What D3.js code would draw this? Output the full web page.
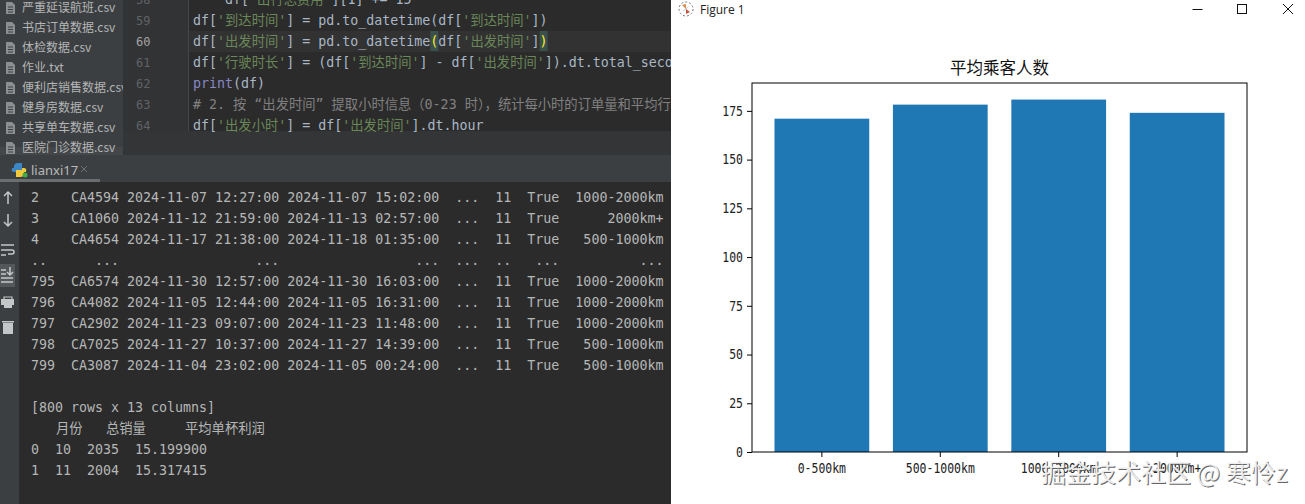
<!DOCTYPE html>
<html>
<head>
<meta charset="utf-8">
<script src="https://cdn.jsdelivr.net/npm/d3@7"></script>
<style>
html, body { margin: 0; padding: 0; background: #fff; overflow: hidden; }
svg { display: block; }
text { white-space: pre; }
</style>
</head>
<body>
<svg id="shot" width="1305" height="504"></svg>
<script>
// chart values
var categories = ["0-500km", "500-1000km", "1000-2000km", "2000km+"];
var passengers = [171, 178.2, 180.8, 174];
var yTicks = [0, 25, 50, 75, 100, 125, 150, 175];
var chartTitle = "平均乘客人数";

// text of the IDE next to the chart
var projectFiles = ["严重延误航班.csv", "书店订单数据.csv", "体检数据.csv", "作业.txt",
    "便利店销售数据.csv", "健身房数据.csv", "共享单车数据.csv", "医院门诊数据.csv"];
var lineNumbers = ["58", "59", "60", "61", "62", "63", "64"];
var codeLines = [
    [["    df[", "d"], ["'出行总费用'", "s"], ["][1] += 15", "d"]],
    [["df[", "d"], ["'到达时间'", "s"], ["] = pd.to_datetime(df[", "d"], ["'到达时间'", "s"], ["])", "d"]],
    [["df[", "d"], ["'出发时间'", "s"], ["] = pd.to_datetime", "d"], ["(", "b"], ["df[", "d"], ["'出发时间'", "s"], ["]", "d"], [")", "b"]],
    [["df[", "d"], ["'行驶时长'", "s"], ["] = (df[", "d"], ["'到达时间'", "s"], ["] - df[", "d"], ["'出发时间'", "s"], ["]).dt.total_seconds()", "d"]],
    [["print", "k"], ["(df)", "d"]],
    [["# 2. 按 “出发时间” 提取小时信息（0-23 时），统计每小时的订单量和平均行驶时长", "c"]],
    [["df[", "d"], ["'出发小时'", "s"], ["] = df[", "d"], ["'出发时间'", "s"], ["].dt.hour", "d"]]
];
var consoleLines = [
    "2    CA4594 2024-11-07 12:27:00 2024-11-07 15:02:00  ...  11  True  1000-2000km",
    "3    CA1060 2024-11-12 21:59:00 2024-11-13 02:57:00  ...  11  True      2000km+",
    "4    CA4654 2024-11-17 21:38:00 2024-11-18 01:35:00  ...  11  True   500-1000km",
    "..      ...                 ...                 ...  ...  ..   ...          ...",
    "795  CA6574 2024-11-30 12:57:00 2024-11-30 16:03:00  ...  11  True  1000-2000km",
    "796  CA4082 2024-11-05 12:44:00 2024-11-05 16:31:00  ...  11  True  1000-2000km",
    "797  CA2902 2024-11-23 09:07:00 2024-11-23 11:48:00  ...  11  True  1000-2000km",
    "798  CA7025 2024-11-27 10:37:00 2024-11-27 14:39:00  ...  11  True   500-1000km",
    "799  CA3087 2024-11-04 23:02:00 2024-11-05 00:24:00  ...  11  True   500-1000km",
    "",
    "[800 rows x 13 columns]"
];
var tableHeader = [["月份", 56], ["总销量", 106], ["平均单杯利润", 185]];
var tableRows = ["0  10  2035  15.199900", "1  11  2004  15.317415"];
var watermark = "掘金技术社区 @ 寒怜z";

var svg = d3.select("#shot");
var mono = "'DejaVu Sans Mono', 'Noto Sans CJK SC', monospace";
var cjk = "'Noto Sans CJK SC', sans-serif";
var codeColors = { d: "#a9b7c6", s: "#6a8759", k: "#8888c6", c: "#808080", b: "#ffef28" };

function box(g, x, y, w, h, fill) {
    return g.append("rect").attr("x", x).attr("y", y).attr("width", w).attr("height", h).attr("fill", fill);
}

svg.append("clipPath").attr("id", "ideClip").append("rect").attr("width", 671).attr("height", 504);
svg.append("clipPath").attr("id", "treeClip").append("rect").attr("width", 123).attr("height", 155);

// ---- IDE, left part ----
var ide = svg.append("g").attr("clip-path", "url(#ideClip)");
box(ide, 0, 0, 671, 504, "#2b2b2b");
box(ide, 0, 0, 123, 155, "#3c3f41");
box(ide, 123, 0, 65, 155, "#313335");
box(ide, 188, 31, 483, 21, "#323232");
box(ide, 188, 0, 1, 131, "#45484a");
box(ide, 123, 131, 548, 24, "#333537");
box(ide, 0, 155, 671, 27, "#3c3f41");
box(ide, 0, 179, 100, 3, "#6b6e70");
box(ide, 0, 182, 19, 322, "#3c3f41");
box(ide, 0, 264, 15, 23, "#54575a");
box(ide, 0, 147, 123, 8, "#4a4d4f").attr("opacity", 0.6);

// project tree
var tree = ide.append("g").attr("clip-path", "url(#treeClip)");
var fileRow = tree.selectAll("g").data(projectFiles).enter().append("g")
    .attr("transform", function(d, i) { return "translate(0," + (8 + i * 20) + ")"; });
fileRow.append("path").attr("d", "M6,-6 h6 l3,3 v9 h-9 z").attr("fill", "#8b8f92");
fileRow.append("path").attr("d", "M8,-1 h5 M8,1.5 h5 M8,4 h5").attr("stroke", "#3c3f41").attr("stroke-width", 1);
fileRow.append("text").attr("x", 22).attr("y", 4).attr("font-family", cjk).attr("font-size", 12)
    .attr("fill", "#b3b5b6").text(function(d) { return d; });

// editor
ide.selectAll(".lineNo").data(lineNumbers).enter().append("text").attr("class", "lineNo")
    .attr("x", 136).attr("y", function(d, i) { return 4 + i * 21; })
    .attr("font-family", mono).attr("font-size", 12)
    .attr("fill", function(d) { return d == "60" ? "#a4a3a3" : "#606366"; })
    .text(function(d) { return d; });

var bracketBg = ide.append("g");
ide.selectAll(".code").data(codeLines).enter().append("text").attr("class", "code")
    .attr("x", 193).attr("y", function(d, i) { return 4 + i * 21; })
    .attr("font-family", mono).attr("font-size", 13.3)
    .each(function(segments) {
        d3.select(this).selectAll("tspan").data(segments).enter().append("tspan")
            .attr("fill", function(s) { return codeColors[s[1]]; })
            .text(function(s) { return s[0]; });
    });

// matched brackets get a tinted cell behind them
ide.selectAll(".code tspan").filter(function(s) { return s[1] == "b"; }).each(function() {
    var start = this.getStartPositionOfChar(0).x;
    box(bracketBg, start, 31, this.getComputedTextLength(), 20, "#3b514d");
});

// run tab
var py = ide.append("g").attr("transform", "translate(19,170)");
py.append("path").attr("d", "M0,-7 C-5,-7 -5,-5 -5,-2 L-7,-2 C-8,2 -6,2 -3,2 L-3,0 L3,0 L3,-7 Z").attr("fill", "#3c85c6");
py.append("path").attr("d", "M0,7 C5,7 5,5 5,2 L7,2 C8,-2 6,-2 3,-2 L3,0 L-3,0 L-3,7 Z").attr("fill", "#f2c93b");
py.append("circle").attr("cx", 6).attr("cy", 5).attr("r", 2.5).attr("fill", "#3fae49");
ide.append("text").attr("x", 31).attr("y", 175).attr("font-family", "'Noto Sans', sans-serif")
    .attr("font-size", 13).attr("fill", "#b8babb").text("lianxi17");
ide.append("path").attr("d", "M81,166 l6,6 M87,166 l-6,6").attr("stroke", "#6e7072").attr("stroke-width", 1);

// console tool icons
var tool = ide.append("g").attr("fill", "none").attr("stroke", "#c4c6c7").attr("stroke-width", 1.5);
tool.append("path").attr("d", "M4,196 l4,-4 l4,4 M8,192 v12");
tool.append("path").attr("d", "M4,222 l4,4 l4,-4 M8,214 v12");
tool.append("path").attr("d", "M1,245 h13 M1,250 h11 a2,2 0 0 1 0,4 h-4 M1,255 h5");
tool.append("path").attr("d", "M1,270 h5 M1,274 h5 M1,278 h12 M1,282 h12 M10,267 v8 M7,272 l3,3 l3,-3");
tool.append("path").attr("d", "M4,301 v-4 h8 v4").attr("stroke-width", 1.2);
box(ide, 1, 299, 13, 6, "#c4c6c7");
box(ide, 4, 304, 8, 4, "#c4c6c7");
box(ide, 3, 323, 10, 11, "#c4c6c7");
box(ide, 2, 321, 12, 1.5, "#c4c6c7");

// console output
var consoleText = ide.append("g").attr("font-family", mono).attr("font-size", 13.3).attr("fill", "#b5b7b7");
consoleText.selectAll(".out").data(consoleLines).enter().append("text").attr("class", "out")
    .attr("x", 31).attr("y", function(d, i) { return 202 + i * 21; })
    .text(function(d) { return d; });
consoleText.selectAll(".head").data(tableHeader).enter().append("text").attr("class", "head")
    .attr("x", function(d) { return d[1]; }).attr("y", 433)
    .text(function(d) { return d[0]; });
consoleText.selectAll(".row").data(tableRows).enter().append("text").attr("class", "row")
    .attr("x", 31).attr("y", function(d, i) { return 454 + i * 21; })
    .text(function(d) { return d; });

// ---- matplotlib window ----
box(svg, 671, 0, 634, 504, "#ffffff");
svg.append("text").attr("x", 700).attr("y", 14).attr("font-family", "'Open Sans', sans-serif")
    .attr("font-size", 12).attr("fill", "#222").text("Figure 1");
var logo = svg.append("g").attr("transform", "translate(686,9)");
logo.append("circle").attr("r", 7).attr("fill", "none").attr("stroke", "#777").attr("stroke-dasharray", "2 2");
logo.append("path").attr("d", "M0,0 L-4,-4 L0,-5 Z").attr("fill", "#d98c4a");
logo.append("path").attr("d", "M0,0 L4,3 L0,5 Z").attr("fill", "#c4553c");
logo.append("path").attr("d", "M0,0 L4,-4 L-4,3 Z").attr("fill", "#56708c");
var win = svg.append("g").attr("fill", "none").attr("stroke", "#111").attr("stroke-width", 1);
win.append("path").attr("d", "M1192.5,9.5 h10");
win.append("rect").attr("x", 1237.5).attr("y", 4.5).attr("width", 9).attr("height", 9);
win.append("path").attr("d", "M1283,4 l10,10 M1293,4 l-10,10");

// ---- the bar chart ----
var margin = { left: 752, right: 1247, top: 83, bottom: 452 };

var xScale = d3.scaleBand().domain(categories)
    .range([margin.left, margin.right])
    .paddingInner(0.2).paddingOuter(0.19);
var yScale = d3.scaleLinear().domain([0, 189.3]).range([margin.bottom, margin.top]);

svg.selectAll(".bar").data(passengers).enter().append("rect").attr("class", "bar")
    .attr("x", function(d, i) { return xScale(categories[i]); })
    .attr("y", function(d) { return yScale(d); })
    .attr("width", xScale.bandwidth())
    .attr("height", function(d) { return yScale(0) - yScale(d); })
    .attr("fill", "#1f77b4");

// tick labels are tall and narrow in the picture, so squeeze a mono face
var squeeze = 0.85;
var xAxis = svg.append("g").attr("transform", "translate(0," + margin.bottom + ")")
    .call(d3.axisBottom(xScale).tickSize(5).tickSizeOuter(0));
var yAxis = svg.append("g").attr("transform", "translate(" + margin.left + ",0)")
    .call(d3.axisLeft(yScale).tickValues(yTicks).tickSize(5).tickSizeOuter(0));
[xAxis, yAxis].forEach(function(a) {
    a.select(".domain").remove();
    a.selectAll("line").attr("stroke", "#000");
    a.selectAll("text").attr("font-family", "'DejaVu Sans Mono', monospace").attr("font-size", 13.5)
        .attr("fill", "#222").attr("transform", "scale(" + squeeze + ",1)");
});
xAxis.selectAll("text").attr("y", 11);
yAxis.selectAll("text").attr("x", -9 / squeeze);

svg.append("rect").attr("x", margin.left).attr("y", margin.top)
    .attr("width", margin.right - margin.left).attr("height", margin.bottom - margin.top)
    .attr("fill", "none").attr("stroke", "#000").attr("stroke-width", 1);

svg.append("text").attr("x", (margin.left + margin.right) / 2).attr("y", 74)
    .attr("text-anchor", "middle").attr("font-family", cjk).attr("font-size", 16.5)
    .attr("fill", "#111").text(chartTitle);

// watermark over the tick labels
var mark = svg.append("g").attr("font-family", cjk).attr("font-size", 25);
mark.append("text").attr("x", 1042).attr("y", 483).attr("fill", "#555").attr("opacity", 0.9).text(watermark);
mark.append("text").attr("x", 1041).attr("y", 482).attr("fill", "#f6f6f6").attr("opacity", 0.92).text(watermark);
</script>
</body>
</html>
